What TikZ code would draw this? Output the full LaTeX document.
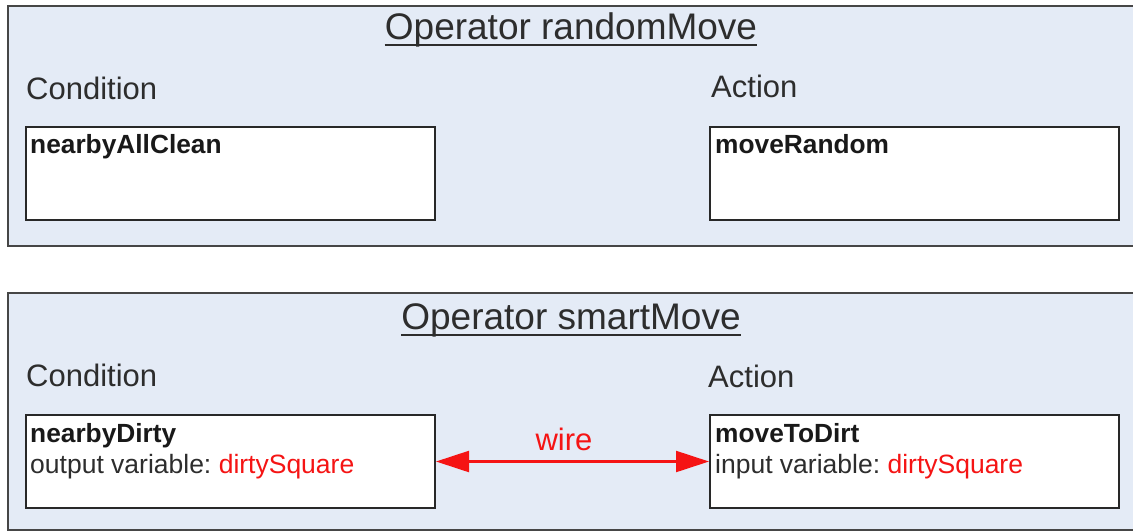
\documentclass[tikz,border=0pt]{standalone}
\usepackage{fontspec}
\setmainfont{Liberation Sans}
\usetikzlibrary{arrows.meta}
\frenchspacing

\definecolor{panelfill}{RGB}{228,235,246}
\definecolor{panelline}{RGB}{70,70,70}
\definecolor{boxline}{RGB}{40,40,40}
\definecolor{txt}{RGB}{45,45,45}
\definecolor{wirered}{RGB}{245,20,20}

\tikzset{
  panel/.style={draw=panelline, line width=2pt, fill=panelfill, anchor=north west,
    inner sep=0pt, minimum width=1140pt},
  opbox/.style={draw=boxline, line width=2pt, fill=white, anchor=north west,
    inner sep=0pt, minimum width=409pt, minimum height=93pt},
  title/.style={anchor=base, text=txt, inner sep=0pt, font=\fontsize{37}{41}\selectfont},
  section/.style={anchor=base west, text=txt, inner sep=0pt, font=\fontsize{31}{36}\selectfont},
  head/.style={anchor=base west, text=black!90, inner sep=0pt, font=\fontsize{26.3}{30}\selectfont\bfseries},
  body/.style={anchor=base west, text=txt, inner sep=0pt, font=\fontsize{26.5}{30}\selectfont},
  wire/.style={draw=wirered, line width=2.2pt, {Triangle[length=33pt,width=21pt]}-{Triangle[length=33pt,width=21pt]}},
  uline/.style={draw=txt, line width=1.6pt}
}

\begin{document}
\begin{tikzpicture}[x=1pt, y=-1pt]
\useasboundingbox (0,0) rectangle (1133,531);
\clip (0,0) rectangle (1133,531);
\fill[white] (0,0) rectangle (1133,531);

% operator randomMove
\node[panel, minimum height=240pt] (op1) at (7,5) {};
\node[title] (t1) at (571,39) {Operator randomMove};
\draw[uline] ([yshift=-6pt]t1.base west) -- ([yshift=-6pt]t1.base east);
\node[section] (c1) at (26,99) {Condition};
\node[section] (a1) at (711,97) {Action};
\node[opbox] (cond1) at (25,126) {};
\node[opbox] (act1) at (709,126) {};
\node[head] (nac) at (30,153) {nearbyAllClean};
\node[head] (mr) at (715,153) {moveRandom};

% operator smartMove
\node[panel, minimum height=237pt] (op2) at (7,292) {};
\node[title] (t2) at (571,329) {Operator smartMove};
\draw[uline] ([yshift=-6pt]t2.base west) -- ([yshift=-6pt]t2.base east);
\node[section] (c2) at (26,386) {Condition};
\node[section] (a2) at (708,387) {Action};
\node[opbox] (cond2) at (25,414) {};
\node[opbox] (act2) at (709,414) {};
\node[head] (nd) at (30,442) {nearbyDirty};
\node[body] (ov) at (30,473) {output variable: \textcolor{wirered}{dirtySquare}};
\node[head] (mtd) at (715,442) {moveToDirt};
\node[body] (iv) at (715,473) {input variable: \textcolor{wirered}{dirtySquare}};

% wire between the output and the input variable
\draw[wire] (cond2.east) -- (act2.west);
\node[anchor=base, text=wirered, inner sep=0pt, font=\fontsize{31}{36}\selectfont] (wl) at (564,450) {wire};
\end{tikzpicture}
\end{document}
